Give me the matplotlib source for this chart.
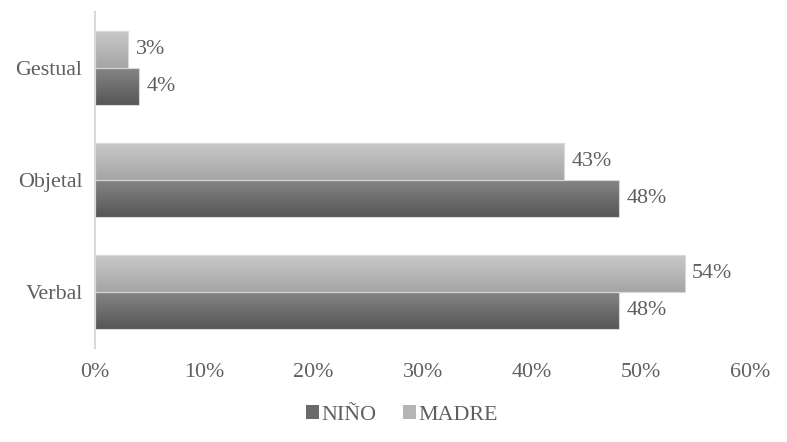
import matplotlib
matplotlib.use("Agg")
import matplotlib.pyplot as plt
import numpy as np
from matplotlib.patches import Patch

categories = ["Gestual", "Objetal", "Verbal"]
nino = [0.04, 0.48, 0.48]
madre = [0.03, 0.43, 0.54]
xticks = [0, 0.1, 0.2, 0.3, 0.4, 0.5, 0.6]
xticklabels = ["0%", "10%", "20%", "30%", "40%", "50%", "60%"]
series_names = ["NIÑO", "MADRE"]

plt.rcParams['font.family'] = ['Liberation Serif', 'DejaVu Serif']
text_color = "#5f5f5f"
fs = 15.8

fig = plt.figure(figsize=(7.87, 4.42), dpi=100)
ax = fig.add_axes([95/787, 1-348/442, (750-95)/787, (348-12)/442])

y = np.arange(len(categories))
h = 0.33
b_n = ax.barh(y + h/2, nino, height=h, color="none", edgecolor="none")
b_m = ax.barh(y - h/2, madre, height=h, color="none", edgecolor="none")

def grad(top, bottom):
    t = np.linspace(0, 1, 64)[:, None]
    top = np.array(matplotlib.colors.to_rgb(top))
    bottom = np.array(matplotlib.colors.to_rgb(bottom))
    return (top * (1 - t) + bottom * t)[:, None, :].repeat(2, axis=1)

g_n = grad("#858585", "#565656")
g_m = grad("#c8c8c8", "#a5a5a5")

for bars, g in ((b_n, g_n), (b_m, g_m)):
    for p in bars:
        x0, y0 = p.get_x(), p.get_y()
        w, hh = p.get_width(), p.get_height()
        ax.imshow(g, extent=(x0, x0 + w, y0 + hh, y0), aspect='auto',
                  interpolation='bilinear', zorder=2)
        ax.add_patch(plt.Rectangle((x0, y0), w, hh, fill=False,
                                   edgecolor="#d9d9d9", linewidth=0.8, zorder=3))

for bars, vals in ((b_n, nino), (b_m, madre)):
    for p, v in zip(bars, vals):
        ax.text(v + 0.007, p.get_y() + p.get_height()/2, f"{round(v*100)}%",
                va="center", ha="left", fontsize=fs, color=text_color)

ax.set_xlim(0, 0.6)
ax.set_ylim(2.5, -0.5)
ax.set_yticks(y)
ax.set_yticklabels(categories)
ax.set_xticks(xticks)
ax.set_xticklabels(xticklabels)
ax.tick_params(axis='both', length=0, labelsize=fs, labelcolor=text_color)
ax.tick_params(axis='x', pad=11)
ax.tick_params(axis='y', pad=9)
for s in ("top", "right", "bottom"):
    ax.spines[s].set_visible(False)
ax.spines["left"].set_color("#d9d9d9")
ax.spines["left"].set_linewidth(1.5)

handles = [Patch(facecolor="#6a6a6a"), Patch(facecolor="#b5b5b5")]
fig.legend(handles, series_names, loc="center", bbox_to_anchor=(402/787, 1-415/442),
           ncol=2, frameon=False, fontsize=fs, handlelength=0.6, handleheight=0.6,
           handletextpad=0.1, columnspacing=1.2, labelcolor=text_color)

fig.savefig("out.png", dpi=100)
